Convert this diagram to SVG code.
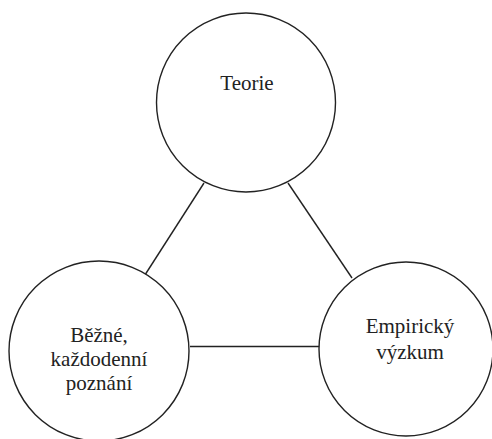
<svg xmlns="http://www.w3.org/2000/svg" width="492" height="439" viewBox="0 0 492 439">
<style>
.node{fill:#fff;stroke:#222;stroke-width:1.4}
.conn line{stroke:#222;stroke-width:1.4}
text{font-family:"Liberation Serif","Times New Roman",serif;font-size:21px;fill:#222;text-anchor:middle}
</style>
<rect width="492" height="439" fill="#fff"/>
<g class="conn" id="connectors">
<line x1="204" y1="183" x2="143" y2="278"/>
<line x1="288" y1="183" x2="352" y2="278"/>
<line x1="190" y1="346.5" x2="320" y2="346.5"/>
</g>
<g id="teorie">
<circle class="node" cx="246" cy="102.5" r="89.5"/>
<text x="247" y="90">Teorie</text>
</g>
<g id="bezne">
<circle class="node" cx="99" cy="351" r="90"/>
<text x="99" y="342">Běžné,</text>
<text x="99" y="366">každodenní</text>
<text x="99" y="390">poznání</text>
</g>
<g id="empiricky">
<circle class="node" cx="406" cy="349" r="87"/>
<text x="410" y="333">Empirický</text>
<text x="410" y="359">výzkum</text>
</g>
</svg>
